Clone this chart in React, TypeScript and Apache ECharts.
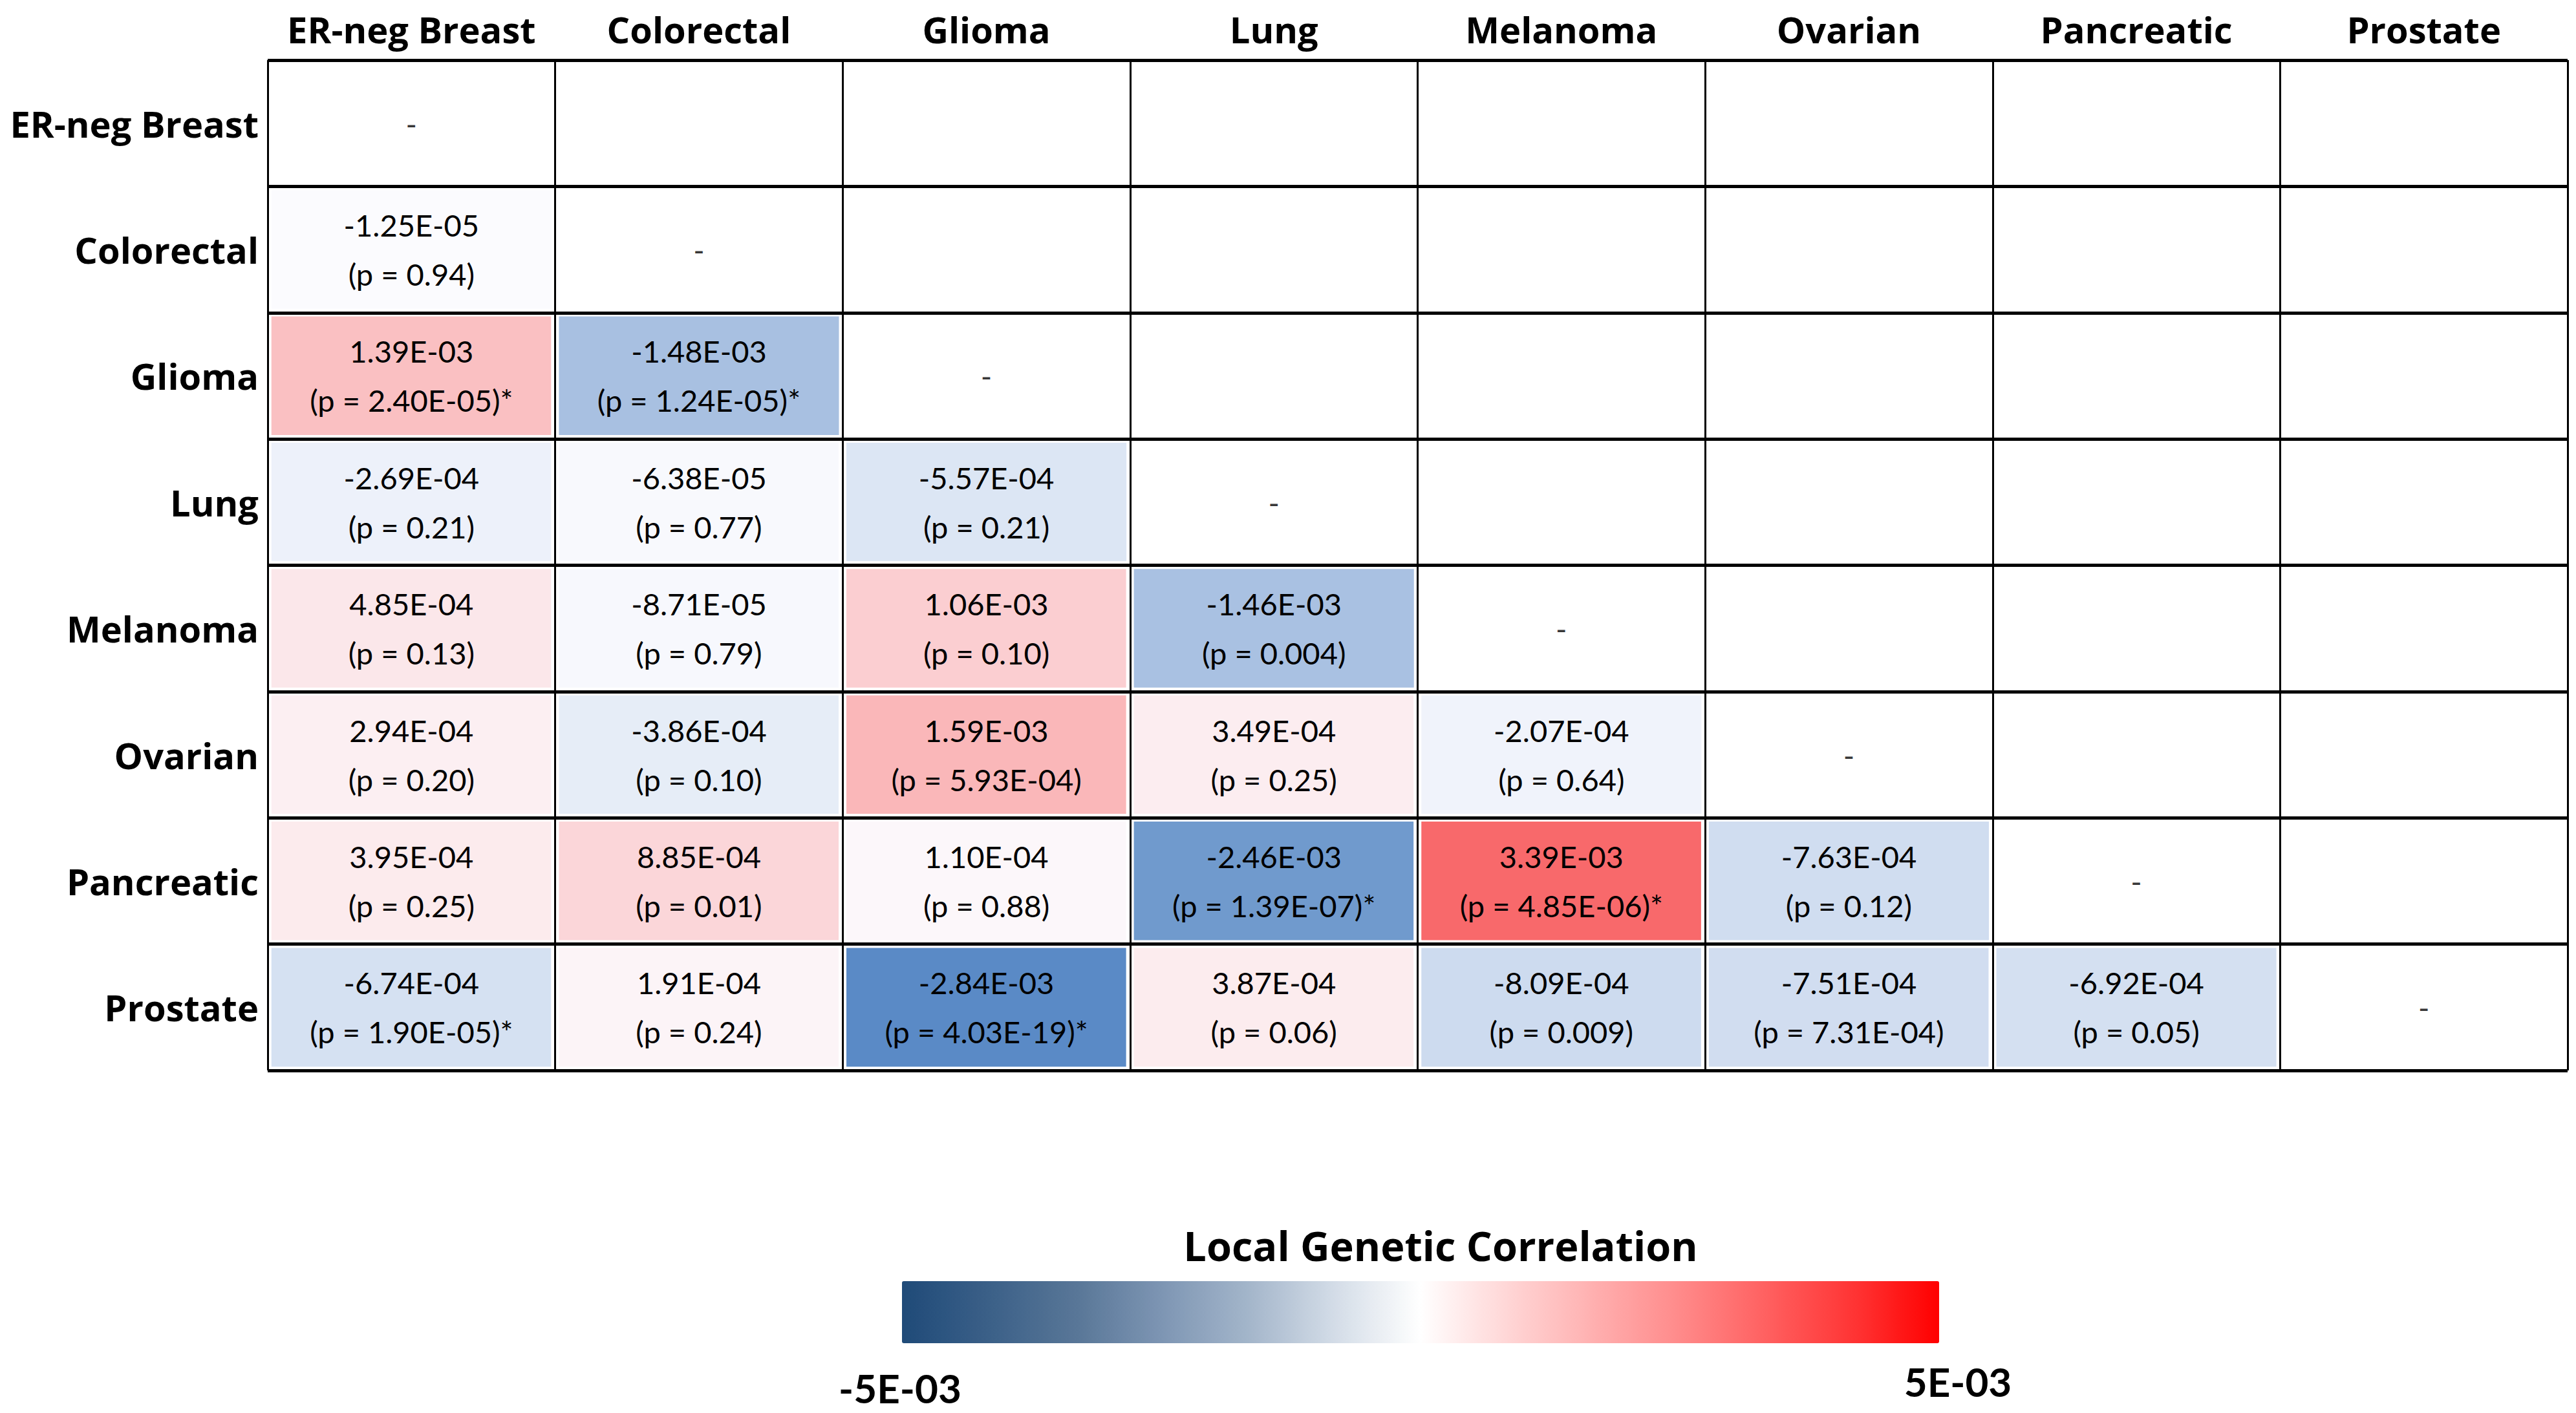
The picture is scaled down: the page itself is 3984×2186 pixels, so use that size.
import React, { useEffect, useRef } from "react";
import * as echarts from "echarts";

// ---------- data ----------
const cancers = [
  "ER-neg Breast",
  "Colorectal",
  "Glioma",
  "Lung",
  "Melanoma",
  "Ovarian",
  "Pancreatic",
  "Prostate",
];

// lower triangle: row i holds columns 0..i-1
const rgValues: number[][] = [
  [],
  [-1.25e-5],
  [1.39e-3, -1.48e-3],
  [-2.69e-4, -6.38e-5, -5.57e-4],
  [4.85e-4, -8.71e-5, 1.06e-3, -1.46e-3],
  [2.94e-4, -3.86e-4, 1.59e-3, 3.49e-4, -2.07e-4],
  [3.95e-4, 8.85e-4, 1.1e-4, -2.46e-3, 3.39e-3, -7.63e-4],
  [-6.74e-4, 1.91e-4, -2.84e-3, 3.87e-4, -8.09e-4, -7.51e-4, -6.92e-4],
];

const pValues: string[][] = [
  [],
  ["0.94"],
  ["2.40E-05", "1.24E-05"],
  ["0.21", "0.77", "0.21"],
  ["0.13", "0.79", "0.10", "0.004"],
  ["0.20", "0.10", "5.93E-04", "0.25", "0.64"],
  ["0.25", "0.01", "0.88", "1.39E-07", "4.85E-06", "0.12"],
  ["1.90E-05", "0.24", "4.03E-19", "0.06", "0.009", "7.31E-04", "0.05"],
];

const significant: boolean[][] = [
  [],
  [false],
  [true, true],
  [false, false, false],
  [false, false, false, false],
  [false, false, false, false, false],
  [false, false, false, true, true, false],
  [true, false, true, false, false, false, false],
];

const legendTitle = "Local Genetic Correlation";
const legendMin = -5e-3;
const legendMax = 5e-3;
const legendLabels = ["-5E-03", "5E-03"];
const legendColors = [
  "#1f4a78",
  "#3b6088",
  "#587697",
  "#7d95b3",
  "#a3b5ca",
  "#d3dce7",
  "#ffffff",
  "#ffd6d6",
  "#ffb0b0",
  "#ff8a8a",
  "#ff6060",
  "#ff3535",
  "#ff0000",
];

// Excel-style 3-colour scale (blue - white - red), white anchored at 0
const scaleLow = "#5A8AC6";
const scaleMid = "#FCFCFF";
const scaleHigh = "#F8696B";

// ---------- helpers ----------
function hexToRgb(h: string) {
  const s = h.replace("#", "");
  return [0, 2, 4].map((i) => parseInt(s.slice(i, i + 2), 16));
}
function mix(a: string, b: string, t: number) {
  const A = hexToRgb(a);
  const B = hexToRgb(b);
  const c = A.map((v, i) => Math.round(v + (B[i] - v) * t));
  return `rgb(${c[0]},${c[1]},${c[2]})`;
}
function fmtSci(v: number) {
  const [m, e] = v.toExponential(2).split("e");
  const n = parseInt(e, 10);
  const abs = Math.abs(n).toString().padStart(2, "0");
  return `${m}E${n < 0 ? "-" : "+"}${abs}`;
}

export default function App() {
  const ref = useRef<HTMLDivElement>(null);

  useEffect(() => {
    if (!ref.current) return;
    const chart = echarts.init(ref.current, undefined, { renderer: "svg" });

    const cells: any[] = [];
    const all: number[] = [];
    rgValues.forEach((row, r) =>
      row.forEach((v, c) => {
        all.push(v);
        cells.push({
          value: [c, r, v],
          p: pValues[r][c],
          sig: significant[r][c],
        });
      })
    );
    const vMin = Math.min(...all);
    const vMax = Math.max(...all);
    const cellStops: string[] = [];
    const N = 120;
    for (let k = 0; k <= N; k++) {
      const v = vMin + ((vMax - vMin) * k) / N;
      cellStops.push(
        v < 0 ? mix(scaleMid, scaleLow, v / vMin) : mix(scaleMid, scaleHigh, v / vMax)
      );
    }

    const cellFont = "Lato, 'Open Sans', sans-serif";
    const headFont = "'Open Sans', Lato, sans-serif";

    const option: any = {
      animation: false,
      backgroundColor: "#ffffff",
      grid: { left: 414, top: 93, width: 3557, height: 1563, show: false },
      xAxis: {
        type: "category",
        data: cancers,
        position: "top",
        z: 10,
        axisLine: { show: false },
        axisTick: { show: false },
        axisLabel: {
          interval: 0,
          fontFamily: headFont,
          fontWeight: "bold",
          fontSize: 56,
          color: "#000",
          margin: 48,
          verticalAlign: "middle",
        },
        splitLine: { show: true, interval: 0, lineStyle: { color: "#000", width: 3 } },
      },
      yAxis: {
        type: "category",
        data: cancers,
        inverse: true,
        z: 10,
        axisLine: { show: false },
        axisTick: { show: false },
        axisLabel: {
          interval: 0,
          fontFamily: headFont,
          fontWeight: "bold",
          fontSize: 56,
          color: "#000",
          margin: 14,
          align: "right",
        },
        splitLine: { show: true, interval: 0, lineStyle: { color: "#000", width: 5 } },
      },
      visualMap: [
        {
          type: "continuous",
          show: false,
          seriesIndex: 0,
          min: vMin,
          max: vMax,
          inRange: { color: cellStops },
        },
        {
          type: "continuous",
          seriesIndex: 2,
          min: legendMin,
          max: legendMax,
          orient: "horizontal",
          left: 1395,
          top: 1982,
          itemWidth: 96,
          itemHeight: 1604,
          padding: 0,
          calculable: false,
          hoverLink: false,
          inRange: { color: legendColors },
        },
      ],
      series: [
        {
          type: "heatmap",
          data: cells,
          itemStyle: { borderColor: "#ffffff", borderWidth: 12 },
          emphasis: { disabled: true },
          label: {
            show: true,
            color: "#000",
            fontFamily: cellFont,
            fontSize: 47,
            lineHeight: 76,
            formatter: (p: any) =>
              `${fmtSci(p.data.value[2])}\n(p = ${p.data.p})${p.data.sig ? "*" : ""}`,
          },
        },
        {
          type: "scatter",
          data: cancers.map((_, i) => [i, i]),
          symbolSize: 1,
          itemStyle: { color: "rgba(0,0,0,0)" },
          silent: true,
          label: {
            show: true,
            position: "inside",
            formatter: () => "-",
            color: "#000",
            fontFamily: cellFont,
            fontSize: 47,
          },
        },
        { type: "heatmap", data: [] },
      ],
      graphic: [
        {
          type: "text",
          x: 2228,
          y: 1926,
          style: {
            text: legendTitle,
            fill: "#000",
            font: `bold 63px ${headFont}`,
            align: "center",
            verticalAlign: "middle",
            textAlign: "center",
            textVerticalAlign: "middle",
          },
        },
        {
          type: "text",
          x: 1392,
          y: 2147,
          style: {
            text: legendLabels[0],
            fill: "#000",
            font: `bold 62px ${cellFont}`,
            align: "center",
            verticalAlign: "middle",
            textAlign: "center",
            textVerticalAlign: "middle",
          },
        },
        {
          type: "text",
          x: 3028,
          y: 2137,
          style: {
            text: legendLabels[1],
            fill: "#000",
            font: `bold 62px ${cellFont}`,
            align: "center",
            verticalAlign: "middle",
            textAlign: "center",
            textVerticalAlign: "middle",
          },
        },
      ],
    };

    chart.setOption(option);
    return () => chart.dispose();
  }, []);

  return (
    <div
      ref={ref}
      style={{ position: "fixed", left: 0, top: 0, width: 3984, height: 2186 }}
    />
  );
}
